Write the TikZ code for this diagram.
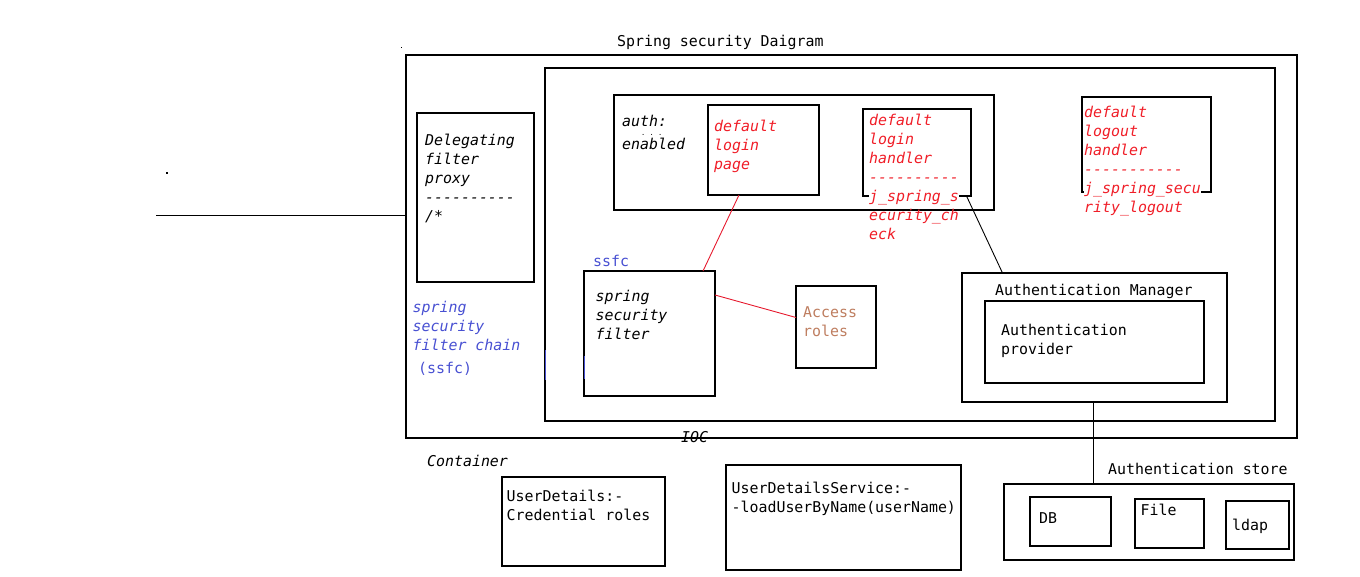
\documentclass[tikz,border=0pt]{standalone}
\usepackage{fontspec}
\setmonofont{DejaVu Sans Mono}
\usetikzlibrary{calc}
\definecolor{tred}{RGB}{240,30,40}
\definecolor{lred}{RGB}{230,25,45}
\definecolor{tblue}{RGB}{72,80,210}
\definecolor{tbrown}{RGB}{190,125,95}
\newcommand\tline[5]{\node[txt,#4] (#1) at (#2,#3) {#5};}
\newcommand\boxnode[5]{\node[box, minimum width=#4pt, minimum height=#5pt] (#1) at (#2,#3) {};}
\begin{document}
\begin{tikzpicture}[x=1pt,y=-1pt,
  txt/.style={anchor=base west, inner sep=0pt, font=\ttfamily\fontsize{14.9}{19}\selectfont},
  it/.style={font=\ttfamily\itshape\fontsize{14.9}{19}\selectfont},
  box/.style={draw, line width=1.2pt, anchor=north west, inner sep=0pt, outer sep=0pt},
  redline/.style={draw=lred, line width=0.9pt},
  blkline/.style={draw=black, line width=0.9pt},
  wht/.style={fill=white}]
\useasboundingbox (0,0) rectangle (1360,576);
% boxes
\boxnode{outer}{406}{55}{891}{383}
\boxnode{ioc}{545}{68}{730}{353}
\boxnode{dfp}{417}{113}{117}{169}
\boxnode{auth}{614}{95}{380}{115}
\boxnode{dlp}{708}{105}{111}{90}
\boxnode{lh}{863}{109}{108}{87}
\boxnode{lo}{1082}{97}{129}{95}
\boxnode{ssf}{584}{271}{131}{125}
\boxnode{ar}{796}{286}{80}{82}
\boxnode{am}{962}{273}{265}{129}
\boxnode{ap}{985}{301}{219}{82}
\boxnode{ud}{502}{477}{163}{89}
\boxnode{uds}{726}{465}{235}{105}
\boxnode{store}{1004}{484}{290}{76}
\boxnode{db}{1030}{497}{81}{49}
\boxnode{file}{1135}{499}{69}{49}
\boxnode{ldap}{1226}{501}{63}{48}
% small marks
\fill (400.5,46.5) rectangle (402,48);
\fill (166,172) rectangle (167.5,173.5);
\draw[tblue, line width=0.8pt] (545.3,350) -- (545.3,380);
\draw[tblue, line width=0.8pt] (584.6,356) -- (584.6,379);
% left incoming line
\coordinate (lft) at (156,215.5);
\draw[line width=1.2pt] (lft) -- (lft -| outer.west);
% title
\tline{title}{617}{46.7}{}{Spring security Daigram}
% delegating filter proxy
\tline{d1}{425}{145}{it}{Delegating}
\tline{d2}{425}{164}{it}{filter}
\tline{d3}{425}{183}{it}{proxy}
\tline{d4}{425}{202}{it}{----------}
\tline{d5}{425}{221}{it}{/*}
% auth enabled
\tline{a1}{622}{126}{it}{auth:}
\node[inner sep=0pt, font=\ttfamily\fontsize{7}{8}\selectfont, anchor=base west] (adots) at (641,135) {.\ .\ .};
\tline{a2}{622}{149.5}{it}{enabled}
% default login page
\tline{p1}{714}{131}{it,text=tred}{default}
\tline{p2}{714}{150}{it,text=tred}{login}
\tline{p3}{714}{169}{it,text=tred}{page}
% default login handler
\tline{h1}{869}{125}{it,text=tred}{default}
\tline{h2}{869}{144}{it,text=tred}{login}
\tline{h3}{869}{163}{it,text=tred}{handler}
\tline{h4}{869}{182}{it,text=tred}{----------}
\tline{h5}{869}{201}{it,text=tred,wht}{j\_spring\_s}
\tline{h6}{869}{220}{it,text=tred}{ecurity\_ch}
\tline{h7}{869}{239}{it,text=tred}{eck}
% default logout handler
\tline{o1}{1084}{117.5}{it,text=tred}{default}
\tline{o2}{1084}{136.5}{it,text=tred}{logout}
\tline{o3}{1084}{155.5}{it,text=tred}{handler}
\tline{o4}{1084}{174.5}{it,text=tred}{-----------}
\tline{o5}{1084}{193.5}{it,text=tred,wht}{j\_spring\_secu}
\tline{o6}{1084}{212.5}{it,text=tred}{rity\_logout}
% spring security filter chain
\tline{c1}{412.5}{312.5}{it,text=tblue}{spring}
\tline{c2}{412.5}{331.5}{it,text=tblue}{security}
\tline{c3}{412.5}{350.5}{it,text=tblue}{filter chain}
\tline{c4}{418}{373}{text=tblue}{(ssfc)}
% ssfc
\tline{s0}{593}{266}{text=tblue}{ssfc}
\tline{s1}{595.5}{301}{it}{spring}
\tline{s2}{595.5}{320}{it}{security}
\tline{s3}{595.5}{339}{it}{filter}
% access roles
\tline{r1}{803}{317.3}{text=tbrown}{Access}
\tline{r2}{803}{336}{text=tbrown}{roles}
% authentication manager
\tline{m1}{995}{295.5}{}{Authentication Manager}
\tline{v1}{1001}{335}{}{Authentication}
\tline{v2}{1001}{354}{}{provider}
% IOC, container
\tline{iocl}{681}{442}{it}{IOC}
\tline{cont}{427}{466.7}{it}{Container}
% user details
\tline{u1}{506.5}{501.7}{}{UserDetails:-}
\tline{u2}{506.5}{520.5}{}{Credential roles}
\tline{w1}{731.5}{493.3}{}{UserDetailsService:-}
\tline{w2}{731.5}{512.3}{}{-loadUserByName(userName)}
% authentication store
\tline{st}{1108}{474}{}{Authentication store}
\tline{dbl}{1039}{523.3}{}{DB}
\tline{fl}{1140.5}{515.7}{}{File}
\tline{ll}{1232}{530}{}{ldap}
% connectors
\draw[redline] ([xshift=-24.5pt]dlp.south) -- ([xshift=53.5pt]ssf.north);
\draw[redline] ([yshift=38.5pt]ssf.east) -- ([yshift=9.5pt]ar.west);
\draw[blkline] ([xshift=-4.5pt]lh.south east) -- ([xshift=40.5pt]am.north west);
\draw[line width=1.1pt] ([xshift=-1pt]am.south) -- ([xshift=-1pt]am.south |- store.north);
\end{tikzpicture}
\end{document}
